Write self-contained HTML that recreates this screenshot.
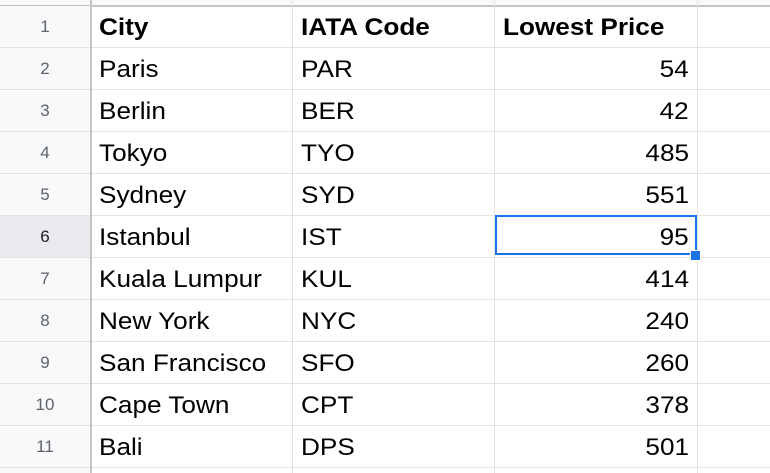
<!DOCTYPE html>
<html><head><meta charset="utf-8"><style>
body{margin:0;width:770px;height:473px;overflow:hidden;background:#fff;font-family:"Liberation Sans",Arial,sans-serif;position:relative}
.hl{position:absolute;left:0;width:770px;height:1px;background:#e2e2e2}
.vl{position:absolute;top:0;height:473px;width:1px;background:#e2e2e2}
.rh{position:absolute;left:0;width:90px;height:41px;line-height:41px;text-align:center;font-size:17px;color:#5f6368;background:#f8f9fa}
.c{position:absolute;height:41px;line-height:43px;font-size:24px;color:#000;white-space:nowrap}
.c span{display:inline-block;transform:scaleX(1.09);transform-origin:left center}
.c.r span{transform-origin:right center}
</style></head><body>
<div style="position:absolute;left:0;top:0;width:770px;height:5px;background:#f8f9fa"></div>
<div style="position:absolute;left:0;top:0;width:90px;height:473px;background:#f8f9fa"></div>
<div id="grid"></div>
<div style="position:absolute;left:495px;top:215px;width:198px;height:36px;border:2px solid #1a73e8"></div>
<div style="position:absolute;left:690px;top:250px;width:11px;height:11px;background:#1a73e8;border:1px solid #fff;box-sizing:border-box"></div>
<script>
const rows=[["City","IATA Code","Lowest Price"],["Paris","PAR","54"],["Berlin","BER","42"],["Tokyo","TYO","485"],["Sydney","SYD","551"],["Istanbul","IST","95"],["Kuala Lumpur","KUL","414"],["New York","NYC","240"],["San Francisco","SFO","260"],["Cape Town","CPT","378"],["Bali","DPS","501"]];
const g=document.getElementById('grid');
const cols=[90,292,494,697];
for(let i=0;i<=11;i++){const l=document.createElement('div');l.className='hl';l.style.top=(5+42*i)+'px';if(i==0){l.style.background='#c4c4c4';l.style.height='2px';}


g.appendChild(l);}
cols.forEach((x,j)=>{const l=document.createElement('div');l.className='vl';l.style.left=x+'px';if(j==0){l.style.background='#c4c4c4';l.style.width='2px';}


g.appendChild(l);});
rows.forEach((r,i)=>{const top=6+42*i;
const h=document.createElement('div');h.className='rh';h.style.top=top+'px';h.textContent=i+1;if(i==5){h.style.background='#e8eaed';h.style.color='#202124';}


g.appendChild(h);
r.forEach((t,j)=>{const c=document.createElement('div');c.className='c';c.style.top=top+'px';
const s=document.createElement('span');s.textContent=t;c.appendChild(s);
if(i==0)c.style.fontWeight='bold';
if(j==2&&i>0){c.className='c r';c.style.left=(cols[2]+4)+'px';c.style.width=(cols[3]-cols[2]-12)+'px';c.style.textAlign='right';}
else c.style.left=(cols[j]+9)+'px';


g.appendChild(c);});});
</script>
</body></html>
